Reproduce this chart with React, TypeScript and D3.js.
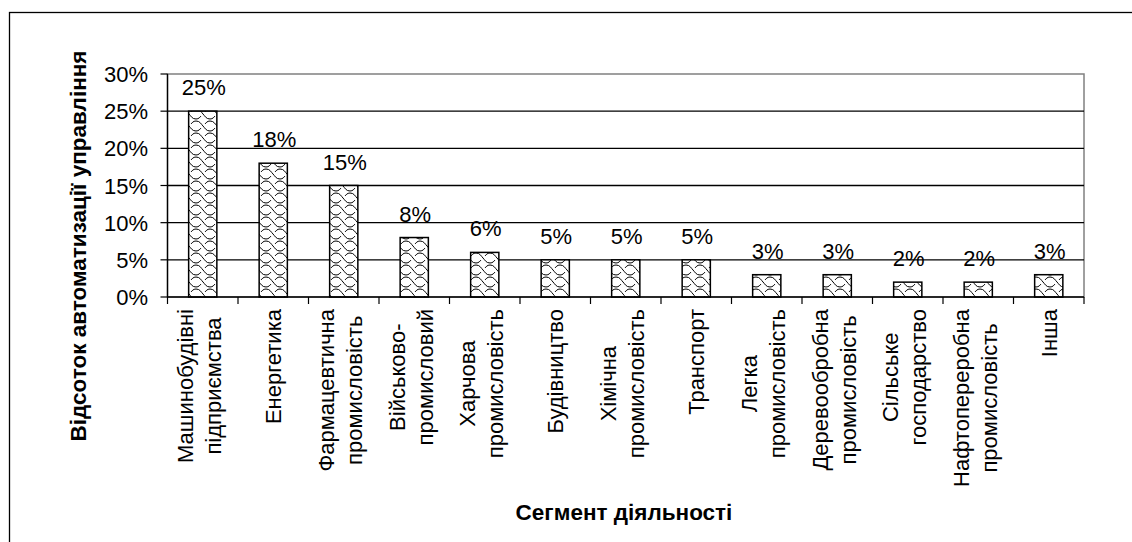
import React, { useEffect, useRef } from "react";
import * as d3 from "d3";

const categories: string[] = [
  "Машинобудівні\nпідприємства",
  "Енергетика",
  "Фармацевтична\nпромисловість",
  "Військово-\nпромисловий",
  "Харчова\nпромисловість",
  "Будівництво",
  "Хімічна\nпромисловість",
  "Транспорт",
  "Легка\nпромисловість",
  "Деревообробна\nпромисловість",
  "Сільське\nгосподарство",
  "Нафтопереробна\nпромисловість",
  "Інша",
];
const values: number[] = [25, 18, 15, 8, 6, 5, 5, 5, 3, 3, 2, 2, 3];
const yTicks: number[] = [0, 5, 10, 15, 20, 25, 30];
const yTitle = "Відсоток автоматизації управління";
const xTitle = "Сегмент діяльності";

const W = 1132;
const H = 542;
const FONT = "'Liberation Sans', Arial, sans-serif";
const FS = 22;

export default function App() {
  const ref = useRef<SVGSVGElement | null>(null);

  useEffect(() => {
    const svg = d3.select(ref.current);
    svg.selectAll("*").remove();

    const left = 167.5, right = 1084, top = 74, bottom = 297;
    const x = d3.scaleBand<number>().domain(d3.range(categories.length)).range([left, right]).padding(0);
    const y = d3.scaleLinear().domain([0, 30]).range([bottom, top]);
    const bw = x.bandwidth() * 0.4;

    const defs = svg.append("defs");
    const pat = defs.append("pattern")
      .attr("id", "weave")
      .attr("patternUnits", "userSpaceOnUse")
      .attr("width", 14).attr("height", 12);
    pat.append("rect").attr("width", 14).attr("height", 12).attr("fill", "#fff");
    pat.append("path")
      .attr("d", "M0,1 C4,1 5,4 7,6 C9,8 10,11 14,11")
      .attr("fill", "none").attr("stroke", "#000").attr("stroke-width", 1);
    pat.append("path")
      .attr("d", "M14,1 C11,1 10,3 9,4 M0,11 C3,11 4,9 5,8")
      .attr("fill", "none").attr("stroke", "#000").attr("stroke-width", 1);

    // outer border
    svg.append("rect").attr("x", 9.5).attr("y", 12.5).attr("width", W).attr("height", H)
      .attr("fill", "#fff").attr("stroke", "#000").attr("stroke-width", 1.3);

    // plot area border (gray)
    svg.append("rect").attr("x", left).attr("y", top).attr("width", right - left).attr("height", bottom - top)
      .attr("fill", "none").attr("stroke", "#808080").attr("stroke-width", 1.5);

    // gridlines
    svg.append("g").selectAll("line").data(yTicks.filter(t => t > 0 && t < 30)).join("line")
      .attr("x1", left).attr("x2", right)
      .attr("y1", d => y(d)).attr("y2", d => y(d))
      .attr("stroke", "#000").attr("stroke-width", 1.3);

    // y axis
    svg.append("line").attr("x1", left).attr("x2", left).attr("y1", top).attr("y2", bottom)
      .attr("stroke", "#000").attr("stroke-width", 1.3);
    svg.append("g").selectAll("line").data(yTicks).join("line")
      .attr("x1", left - 7).attr("x2", left)
      .attr("y1", d => y(d)).attr("y2", d => y(d))
      .attr("stroke", "#000").attr("stroke-width", 1.2);
    svg.append("g").selectAll("text").data(yTicks).join("text")
      .attr("x", 148).attr("y", d => y(d) + 8)
      .attr("text-anchor", "end")
      .attr("font-family", FONT).attr("font-size", FS)
      .text(d => `${d}%`);

    // bars
    svg.append("g").selectAll("rect").data(values).join("rect")
      .attr("x", (_, i) => (x(i) as number) + (x.bandwidth() - bw) / 2)
      .attr("y", d => y(d))
      .attr("width", bw)
      .attr("height", d => bottom - y(d))
      .attr("fill", "url(#weave)")
      .attr("stroke", "#000").attr("stroke-width", 1.5);

    // value labels
    svg.append("g").selectAll("text").data(values).join("text")
      .attr("x", (_, i) => (x(i) as number) + x.bandwidth() / 2 + 1)
      .attr("y", d => y(d) - 16)
      .attr("text-anchor", "middle")
      .attr("font-family", FONT).attr("font-size", FS)
      .text(d => `${d}%`);

    // x axis
    svg.append("line").attr("x1", left).attr("x2", right).attr("y1", bottom).attr("y2", bottom)
      .attr("stroke", "#000").attr("stroke-width", 1.5);
    svg.append("g").selectAll("line").data(d3.range(categories.length + 1)).join("line")
      .attr("x1", i => left + i * x.step()).attr("x2", i => left + i * x.step())
      .attr("y1", bottom).attr("y2", bottom + 7)
      .attr("stroke", "#000").attr("stroke-width", 1.2);

    // category labels (rotated)
    const labelTop = 309;
    categories.forEach((cat, i) => {
      const lines = cat.split("\n");
      const cx = (x(i) as number) + x.bandwidth() / 2;
      const g = svg.append("g");
      const texts = lines.map(l =>
        g.append("text")
          .attr("font-family", FONT).attr("font-size", FS)
          .attr("text-anchor", "middle")
          .text(l)
      );
      const maxL = d3.max(texts, t => (t.node() as SVGTextElement).getComputedTextLength()) || 0;
      const cy = labelTop + maxL / 2;
      const offsets = lines.length === 1 ? [8] : [-9.5, 18.5];
      texts.forEach((t, k) => {
        const bx = cx + offsets[k];
        t.attr("transform", `translate(${bx},${cy}) rotate(-90)`);
      });
    });

    // axis titles
    svg.append("text")
      .attr("transform", `translate(86,246) rotate(-90)`)
      .attr("text-anchor", "middle")
      .attr("font-family", FONT).attr("font-size", 22.5).attr("font-weight", "bold")
      .text(yTitle);
    svg.append("text")
      .attr("x", 624).attr("y", 520)
      .attr("text-anchor", "middle")
      .attr("font-family", FONT).attr("font-size", 22.5).attr("font-weight", "bold")
      .text(xTitle);
  }, []);

  return (
    <svg ref={ref} width={W} height={H}
      style={{ position: "absolute", left: 0, top: 0, background: "#fff" }} />
  );
}
